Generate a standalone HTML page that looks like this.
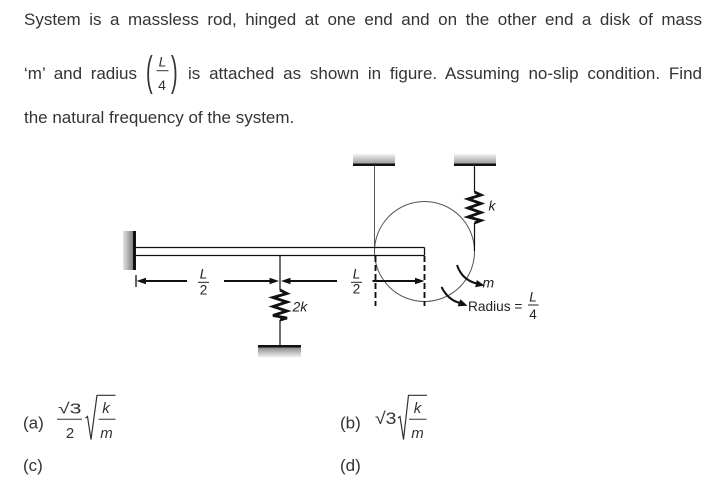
<!DOCTYPE html>
<html>
<head>
<meta charset="utf-8">
<style>
  html,body{margin:0;padding:0;background:#fff;}
  body{width:719px;height:485px;position:relative;overflow:hidden;font-family:"Liberation Sans",Arial,sans-serif;color:#333;}
  .ln{position:absolute;font-size:17px;line-height:20px;white-space:nowrap;}
  .j{text-align:justify;text-align-last:justify;white-space:normal;}
  svg{position:absolute;left:0;top:0;}
</style>
</head>
<body>
<div class="ln j" style="left:24px;top:10px;width:678px;">System is a massless rod, hinged at one end and on the other end a disk of mass</div>
<div class="ln j" style="left:24px;top:64px;width:113px;">‘m’ and radius</div>
<div class="ln j" style="left:188px;top:64px;width:514px;">is attached as shown in figure. Assuming no-slip condition. Find</div>
<div class="ln" style="left:24px;top:108px;">the natural frequency of the system.</div>

<svg width="719" height="485" viewBox="0 0 719 485" xmlns="http://www.w3.org/2000/svg">
  <defs>
    <linearGradient id="gv" x1="0" y1="0" x2="0" y2="1">
      <stop offset="0" stop-color="#f2f2f2"/>
      <stop offset="1" stop-color="#9a9a9a"/>
    </linearGradient>
    <linearGradient id="gg" x1="0" y1="0" x2="0" y2="1">
      <stop offset="0" stop-color="#8a8a8a"/>
      <stop offset="1" stop-color="#f4f4f4"/>
    </linearGradient>
    <linearGradient id="gh" x1="0" y1="0" x2="1" y2="0">
      <stop offset="0" stop-color="#e4e4e4"/>
      <stop offset="1" stop-color="#808080"/>
    </linearGradient>
  </defs>

  <!-- (L/4) in paragraph -->
  <g font-family="Liberation Sans, Arial, sans-serif" fill="#333">
    <text x="146" y="86" font-size="20" transform="translate(0,-95) scale(1,2.1)" transform-origin="0 0">(</text>
    <text x="171" y="86" font-size="20" transform="translate(0,-95) scale(1,2.1)" transform-origin="0 0">)</text>
    <text x="162.5" y="66.5" font-size="14" font-style="italic" text-anchor="middle">L</text>
    <line x1="156.5" y1="70.7" x2="168.5" y2="70.7" stroke="#333" stroke-width="1"/>
    <text x="162" y="90" font-size="14" text-anchor="middle">4</text>
  </g>

  <!-- Wall -->
  <rect x="123" y="231" width="10" height="39" fill="url(#gh)"/>
  <rect x="133" y="231" width="3" height="39" fill="#111"/>

  <!-- Ceilings -->
  <rect x="353" y="154" width="42" height="10" fill="url(#gv)"/>
  <rect x="353" y="163.5" width="42" height="2.5" fill="#111"/>
  <rect x="454" y="154" width="42" height="10" fill="url(#gv)"/>
  <rect x="454" y="163.5" width="42" height="2.5" fill="#111"/>

  <!-- Ground -->
  <rect x="258" y="345" width="43" height="2.5" fill="#111"/>
  <rect x="258" y="347.5" width="43" height="10" fill="url(#gg)"/>

  <!-- String -->
  <line x1="374.5" y1="166" x2="374.5" y2="251" stroke="#555" stroke-width="1"/>

  <!-- Disk -->
  <circle cx="424.5" cy="251.5" r="50" fill="none" stroke="#555" stroke-width="1"/>

  <!-- Rod -->
  <g stroke="#111" stroke-width="1.3" fill="none">
    <line x1="136" y1="247.5" x2="424.5" y2="247.5"/>
    <line x1="136" y1="255.5" x2="424.5" y2="255.5"/>
    <line x1="424.5" y1="247.5" x2="424.5" y2="255.5"/>
  </g>

  <!-- Spring k -->
  <g stroke="#111" fill="none" stroke-linejoin="miter">
    <line x1="474.5" y1="166" x2="474.5" y2="192" stroke-width="1.2"/>
    <polyline stroke-width="2.8" points="474.5,192 481,195 468,199 481,203.5 468,208 481,212.5 468,217 481,220.5 474.5,223"/>
    <line x1="474.5" y1="223" x2="474.5" y2="251" stroke-width="1.2"/>
  </g>

  <!-- Spring 2k -->
  <g stroke="#111" fill="none">
    <line x1="280" y1="255.5" x2="280" y2="290" stroke-width="1.2"/>
    <polyline stroke-width="2.8" points="280,290 287,293.5 273,297.5 287,302 273,306.5 287,311 273,315.5 287,318 280,320"/>
    <line x1="280" y1="320" x2="280" y2="346" stroke-width="1.2"/>
  </g>

  <!-- Dimension line -->
  <g stroke="#111" stroke-width="2" fill="none">
    <line x1="136" y1="275" x2="136" y2="287" stroke-width="1.3"/>
    <line x1="140" y1="281" x2="187" y2="281"/>
    <line x1="224" y1="281" x2="273" y2="281"/>
    <line x1="287" y1="281" x2="337" y2="281"/>
    <line x1="372.5" y1="281" x2="418" y2="281"/>
  </g>
  <g fill="#111">
    <polygon points="136.5,281 146,277.8 146,284.2"/>
    <polygon points="279,281 269.5,277.8 269.5,284.2"/>
    <polygon points="281,281 290.5,277.8 290.5,284.2"/>
    <polygon points="424.5,281 415,277.8 415,284.2"/>
  </g>
  <g stroke="#111" stroke-width="1.9" stroke-dasharray="6,3">
    <line x1="375.5" y1="256" x2="375.5" y2="306"/>
    <line x1="424.5" y1="256" x2="424.5" y2="306"/>
  </g>

  <!-- Dimension labels -->
  <g font-family="Liberation Sans, Arial, sans-serif" fill="#222" font-size="13.5">
    <text x="203.5" y="278.3" font-style="italic" text-anchor="middle">L</text>
    <line x1="198" y1="282.3" x2="209" y2="282.3" stroke="#222" stroke-width="1"/>
    <text x="203.5" y="294.3" text-anchor="middle">2</text>
    <text x="356.5" y="278.3" font-style="italic" text-anchor="middle">L</text>
    <line x1="351" y1="282.3" x2="362" y2="282.3" stroke="#222" stroke-width="1"/>
    <text x="356.5" y="293.5" text-anchor="middle">2</text>

    <text x="292.5" y="311.5" font-size="14" font-style="italic">2k</text>
    <text x="488.5" y="210.5" font-size="14" font-style="italic">k</text>
    <text x="482.5" y="287.5" font-size="14" font-style="italic">m</text>
    <text x="468" y="311" font-size="13.7">Radius =</text>
    <text x="533" y="301.7" font-style="italic" text-anchor="middle">L</text>
    <line x1="528" y1="305" x2="538.5" y2="305" stroke="#222" stroke-width="1"/>
    <text x="533" y="319" text-anchor="middle">4</text>
  </g>

  <!-- Curved arrows -->
  <g stroke="#111" stroke-width="2" fill="none">
    <path d="M457,265 Q462,280 477,283.6"/>
    <path d="M441.5,287 Q448,300 460,303"/>
  </g>
  <g fill="#111">
    <polygon points="484.5,285.5 475.2,287.2 476.8,280"/>
    <polygon points="467.5,305.8 457.6,306.2 460.4,299.2"/>
  </g>

  <!-- Options -->
  <g font-family="Liberation Sans, Arial, sans-serif" fill="#333">
    <text x="23" y="428.5" font-size="17">(a)</text>
    <text x="58" y="413.3" font-size="15" textLength="23.5" lengthAdjust="spacingAndGlyphs">√3</text>
    <line x1="57" y1="419.3" x2="82" y2="419.3" stroke="#333" stroke-width="1"/>
    <text x="70" y="438" font-size="15" text-anchor="middle">2</text>
    <polyline points="85.5,418 87.5,416.5 91,439.5 97,395.3 115.5,395.3" fill="none" stroke="#333" stroke-width="1.2"/>
    <text x="106" y="413" font-size="15" font-style="italic" text-anchor="middle">k</text>
    <line x1="98.5" y1="419.3" x2="115.5" y2="419.3" stroke="#333" stroke-width="1"/>
    <text x="106.5" y="438" font-size="15" font-style="italic" text-anchor="middle">m</text>

    <text x="340" y="428.5" font-size="17">(b)</text>
    <text x="375" y="424" font-size="17" textLength="21.5" lengthAdjust="spacingAndGlyphs">√3</text>
    <polyline points="398,418 400,416.5 403.5,439.5 408.5,395.3 427,395.3" fill="none" stroke="#333" stroke-width="1.2"/>
    <text x="417.5" y="413" font-size="15" font-style="italic" text-anchor="middle">k</text>
    <line x1="409" y1="419.3" x2="426.5" y2="419.3" stroke="#333" stroke-width="1"/>
    <text x="417.5" y="438" font-size="15" font-style="italic" text-anchor="middle">m</text>

    <text x="23" y="471" font-size="17">(c)</text>
    <text x="340" y="471" font-size="17">(d)</text>
  </g>
</svg>
</body>
</html>
